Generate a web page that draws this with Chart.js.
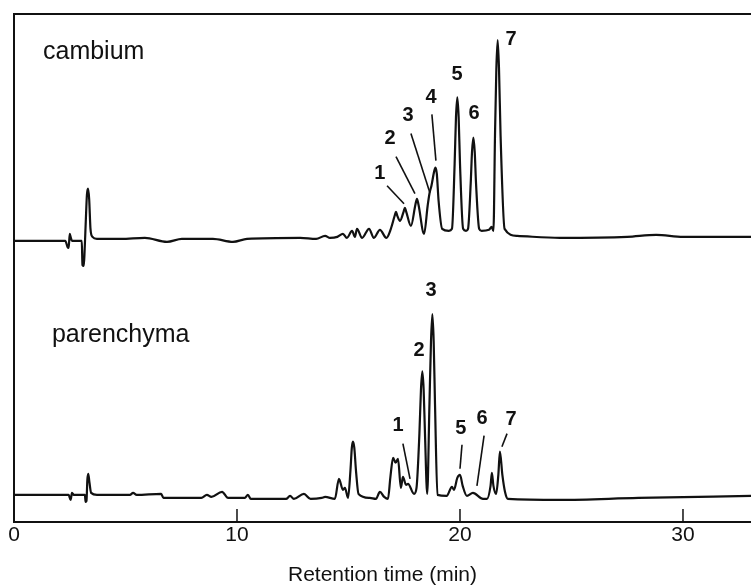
<!DOCTYPE html>
<html>
<head>
<meta charset="utf-8">
<title>Retention time chromatograms</title>
<script src="https://cdn.jsdelivr.net/npm/chart.js@4.4.0/dist/chart.umd.min.js"></script>
<style>
    body { margin: 0; background: #ffffff; }
    #wrap { width: 751px; height: 586px; }
</style>
</head>
<body>
<div id="wrap"><canvas id="chromChart" width="751" height="586"></canvas></div>
<script>
// [retention time (min), signal]; the two traces are stacked with their own offsets
const cambiumTrace = [
    [0, 280], [2.30, 280], [2.40, 274], [2.45, 273], [2.50, 287], [2.55, 283], [2.60, 280],
    [3.04, 280], [3.07, 256], [3.13, 255], [3.17, 272], [3.22, 300], [3.27, 326], [3.32, 332], [3.37, 322],
    [3.43, 292], [3.52, 284], [3.72, 282], [4.80, 282], [5.87, 283], [6.86, 279], [7.53, 282], [8.92, 282],
    [9.82, 279], [10.45, 282], [12.83, 283], [13.55, 282], [13.95, 285], [14.17, 283], [14.50, 284],
    [14.75, 287], [14.93, 283], [15.16, 290], [15.29, 284], [15.38, 292], [15.61, 283], [15.92, 292],
    [16.14, 283], [16.41, 291], [16.70, 283], [16.90, 292], [17.07, 305], [17.13, 309], [17.19, 305],
    [17.31, 300], [17.47, 309], [17.53, 313], [17.59, 309], [17.80, 295], [18.00, 316], [18.07, 322],
    [18.14, 316], [18.39, 287], [18.55, 315], [18.63, 327], [18.72, 335], [18.84, 349], [18.90, 353],
    [18.96, 347], [19.04, 320], [19.20, 292], [19.50, 290], [19.64, 292], [19.76, 357], [19.82, 403],
    [19.88, 423], [19.94, 403], [20.00, 357], [20.14, 292], [20.27, 290], [20.36, 292], [20.48, 337],
    [20.54, 369], [20.60, 383], [20.66, 369], [20.72, 337], [20.86, 292], [20.97, 290], [21.30, 291],
    [21.42, 294], [21.50, 290], [21.57, 385], [21.63, 451], [21.69, 480], [21.75, 451], [21.82, 385],
    [22.00, 292], [22.56, 285], [24.48, 283], [27.50, 284], [28.80, 286], [30.00, 284], [33.05, 284]
];

const parenchymaTrace = [
    [0, 27], [2.45, 27], [2.54, 22], [2.60, 29], [2.68, 27], [3.18, 27], [3.21, 20], [3.25, 21],
    [3.29, 42], [3.33, 48], [3.38, 40], [3.46, 29], [3.72, 27], [5.20, 27], [5.34, 29], [5.50, 27],
    [6.60, 28], [6.70, 24], [8.40, 24], [8.65, 27], [8.85, 25], [9.33, 30], [9.60, 24], [10.35, 24],
    [10.49, 27], [10.62, 23], [12.20, 23], [12.38, 26], [12.55, 23], [13.00, 28], [13.30, 23],
    [13.80, 24], [13.95, 25], [14.39, 23], [14.57, 43], [14.75, 32], [14.84, 34], [14.98, 24],
    [15.09, 52], [15.15, 74], [15.20, 80], [15.26, 74], [15.34, 50], [15.45, 28], [15.96, 24],
    [16.23, 23], [16.41, 30], [16.60, 25], [16.77, 23], [16.88, 45], [17.00, 64], [17.11, 59],
    [17.22, 63], [17.35, 34], [17.44, 45], [17.58, 37], [17.67, 38], [17.94, 28], [18.05, 34],
    [18.18, 88], [18.25, 132], [18.31, 150], [18.37, 132], [18.43, 88], [18.53, 28], [18.63, 117],
    [18.70, 180], [18.76, 207], [18.82, 180], [18.88, 117], [18.99, 27], [19.40, 26], [19.64, 35],
    [19.73, 32], [19.88, 44], [20.00, 47], [20.12, 36], [20.31, 26], [20.58, 29], [21.03, 23],
    [21.21, 23], [21.37, 36], [21.43, 49], [21.50, 36], [21.62, 28], [21.72, 47], [21.79, 70],
    [21.90, 47], [22.02, 30], [22.15, 23], [24.48, 22], [28.00, 24], [33.05, 26]
];

const xTickValues = [0, 10, 20, 30];

// peak numbers: text, label centre (min, signal), leader line (min, signal -> min, signal)
const cambiumPeakText = ['1', '2', '3', '4', '5', '6', '7'];
const cambiumLabelTime = [16.41, 16.86, 17.67, 18.70, 19.87, 20.63, 22.29];
const cambiumLabelSignal = [347, 382, 405, 423, 446, 407, 481];
const cambiumLeaders = [
    [16.73, 335, 17.49, 317],
    [17.13, 364, 17.98, 327],
    [17.80, 387, 18.65, 328],
    [18.74, 406, 18.92, 360]
];

const parenchymaPeakText = ['1', '2', '3', '5', '6', '7'];
const parenchymaLabelTime = [17.22, 18.16, 18.70, 20.04, 20.99, 22.29];
const parenchymaLabelSignal = [96, 171, 231, 93, 103, 102];
const parenchymaLeaders = [
    [17.44, 78, 17.76, 43],
    [20.09, 77, 20.00, 53],
    [21.08, 86, 20.76, 36],
    [22.11, 88, 21.88, 75]
];

const sampleNames = ['cambium', 'parenchyma'];
const sampleNameTime = [1.30, 1.70];
const sampleNameSignal = [461, 179];

const FONT = '"Liberation Sans", Arial, Helvetica, sans-serif';
const INK = '#111111';

function toPoints(pairs){
    return pairs.map(p => ({ x: p[0], y: p[1] }));
}

const figurePlugin = {
    id: 'figureExtras',
    afterDraw(chart){
        const c = chart.ctx;
        const area = chart.chartArea;
        const xs = chart.scales.x;
        const ys = chart.scales.y;
        c.save();
        c.strokeStyle = INK;
        c.fillStyle = INK;

        // top frame line
        c.lineWidth = 2;
        c.beginPath();
        c.moveTo(area.left - 1, area.top);
        c.lineTo(area.right, area.top);
        c.stroke();

        // inward tick marks
        c.lineWidth = 1.5;
        xs.ticks.forEach(t => {
            if (t.value === 0) return;
            const px = xs.getPixelForValue(t.value);
            c.beginPath();
            c.moveTo(px, area.bottom);
            c.lineTo(px, area.bottom - 13);
            c.stroke();
        });

        // leader lines
        c.lineWidth = 1.6;
        cambiumLeaders.concat(parenchymaLeaders).forEach(l => {
            c.beginPath();
            c.moveTo(xs.getPixelForValue(l[0]), ys.getPixelForValue(l[1]));
            c.lineTo(xs.getPixelForValue(l[2]), ys.getPixelForValue(l[3]));
            c.stroke();
        });

        // peak numbers
        c.font = 'bold 20px ' + FONT;
        c.textAlign = 'center';
        c.textBaseline = 'middle';
        cambiumPeakText.forEach((s, i) => {
            c.fillText(s, xs.getPixelForValue(cambiumLabelTime[i]), ys.getPixelForValue(cambiumLabelSignal[i]));
        });
        parenchymaPeakText.forEach((s, i) => {
            c.fillText(s, xs.getPixelForValue(parenchymaLabelTime[i]), ys.getPixelForValue(parenchymaLabelSignal[i]));
        });

        // sample names
        c.font = '25px ' + FONT;
        c.textAlign = 'left';
        c.textBaseline = 'alphabetic';
        sampleNames.forEach((s, i) => {
            c.fillText(s, xs.getPixelForValue(sampleNameTime[i]), ys.getPixelForValue(sampleNameSignal[i]));
        });
        c.restore();
    }
};

const lineStyle = {
    borderColor: INK,
    borderWidth: 2.2,
    pointRadius: 0,
    fill: false,
    cubicInterpolationMode: 'monotone'
};

new Chart(document.getElementById('chromChart').getContext('2d'), {
    type: 'line',
    data: {
        datasets: [
            Object.assign({ label: 'cambium', data: toPoints(cambiumTrace) }, lineStyle),
            Object.assign({ label: 'parenchyma', data: toPoints(parenchymaTrace) }, lineStyle)
        ]
    },
    options: {
        responsive: false,
        animation: false,
        devicePixelRatio: 1,
        layout: { padding: { left: 14, top: 14, right: 0, bottom: 0 } },
        plugins: {
            legend: { display: false },
            tooltip: { enabled: false }
        },
        scales: {
            x: {
                type: 'linear',
                min: 0,
                max: 33.05,
                afterBuildTicks: scale => { scale.ticks = xTickValues.map(v => ({ value: v })); },
                grid: { display: false, drawTicks: false },
                border: { display: true, color: INK, width: 2 },
                ticks: { color: INK, font: { family: FONT, size: 21, lineHeight: 1 }, padding: 3, maxRotation: 0, autoSkip: false },
                title: {
                    display: true,
                    text: 'Retention time (min)',
                    color: INK,
                    font: { family: FONT, size: 21, lineHeight: 1 },
                    padding: { top: 16, bottom: 0 }
                }
            },
            y: {
                type: 'linear',
                min: 0,
                max: 506,
                ticks: { display: false },
                grid: { display: false, drawTicks: false },
                border: { display: true, color: INK, width: 2 }
            }
        }
    },
    plugins: [figurePlugin]
});
</script>
</body>
</html>
